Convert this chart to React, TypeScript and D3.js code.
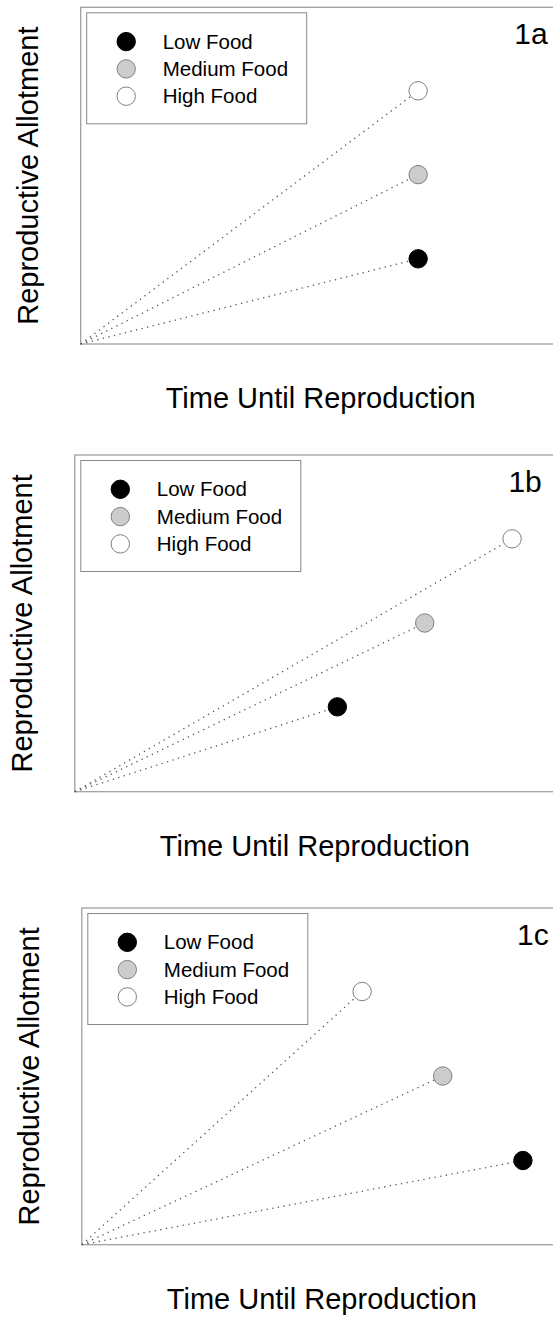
import React, { useRef, useEffect } from 'react';
import * as d3 from 'd3';

// categories
const foodLevels = ['Low Food', 'Medium Food', 'High Food'];
const panelLabels = ['1a', '1b', '1c'];

// time until reproduction (x), per panel, order = foodLevels
const time1a = [70.3, 70.3, 70.3];
const time1b = [54.7, 72.9, 91.1];
const time1c = [91.9, 75.2, 58.4];

// reproductive allotment (y), per panel
const allot1a = [25.3, 50.3, 75.2];
const allot1b = [25.2, 50.1, 75.1];
const allot1c = [25.0, 50.1, 75.2];

const axisTitleX = 'Time Until Reproduction';
const axisTitleY = 'Reproductive Allotment';

const fills = ['#000000', '#cccccc', '#ffffff'];
const strokes = ['#000000', '#808080', '#808080'];

const W = 553;
const H = 1317;
const FONT = '"Liberation Sans", Arial, Helvetica, sans-serif';

// frame placement of each panel (left, top)
const frames = [
  { left: 80.7, top: 7.3 },
  { left: 74.8, top: 455 },
  { left: 81.8, top: 908 },
];
const plotW = 480;
const plotH = 336.7;

const App = () => {
  const svgRef = useRef<SVGSVGElement>(null);

  useEffect(() => {
    const svg = d3.select(svgRef.current);
    svg.selectAll('*').remove();

    const times = [time1a, time1b, time1c];
    const allots = [allot1a, allot1b, allot1c];

    panelLabels.forEach((label, p) => {
      const { left, top } = frames[p];
      const g = svg.append('g').attr('transform', `translate(${left},${top})`);

      const x = d3.scaleLinear().domain([0, 100]).range([0, plotW]);
      const y = d3.scaleLinear().domain([0, 100]).range([plotH, 0]);

      // frame
      g.append('rect')
        .attr('x', 0)
        .attr('y', 0)
        .attr('width', plotW)
        .attr('height', plotH)
        .attr('fill', 'none')
        .attr('stroke', '#a0a0a0')
        .attr('stroke-width', 1.3);

      // dotted lines from origin
      const line = d3.line<[number, number]>()
        .x((d) => x(d[0]))
        .y((d) => y(d[1]));

      foodLevels.forEach((_, i) => {
        g.append('path')
          .datum([[0, 0], [times[p][i], allots[p][i]]] as [number, number][])
          .attr('fill', 'none')
          .attr('stroke', '#555')
          .attr('stroke-width', 1.3)
          .attr('stroke-dasharray', '1.3,4.4')
          .attr('d', line);
      });

      // points
      g.selectAll('.pt')
        .data(foodLevels)
        .enter()
        .append('circle')
        .attr('class', 'pt')
        .attr('cx', (d, i) => x(times[p][i]))
        .attr('cy', (d, i) => y(allots[p][i]))
        .attr('r', 9.2)
        .attr('fill', (d, i) => fills[i])
        .attr('stroke', (d, i) => strokes[i])
        .attr('stroke-width', 1);

      // legend
      const lg = g.append('g').attr('transform', 'translate(6,5.5)');
      lg.append('rect')
        .attr('width', 220)
        .attr('height', 111)
        .attr('fill', '#fff')
        .attr('stroke', '#888')
        .attr('stroke-width', 1);

      foodLevels.forEach((name, i) => {
        const cy = 28.8 + i * 27.3;
        lg.append('circle')
          .attr('cx', 39.5)
          .attr('cy', cy)
          .attr('r', 9.2)
          .attr('fill', fills[i])
          .attr('stroke', strokes[i])
          .attr('stroke-width', 1);
        lg.append('text')
          .attr('x', 76)
          .attr('y', cy)
          .attr('dy', '0.35em')
          .attr('font-family', FONT)
          .attr('font-size', 20.5)
          .attr('fill', '#000')
          .text(name);
      });

      // panel label
      g.append('text')
        .attr('x', 467)
        .attr('y', 36.7)
        .attr('text-anchor', 'end')
        .attr('font-family', FONT)
        .attr('font-size', 30)
        .attr('fill', '#000')
        .text(label);

      // axis titles
      g.append('text')
        .attr('x', 240)
        .attr('y', plotH + 64)
        .attr('text-anchor', 'middle')
        .attr('font-family', FONT)
        .attr('font-size', 29)
        .attr('fill', '#000')
        .text(axisTitleX);

      g.append('text')
        .attr('transform', `translate(-43,${plotH / 2}) rotate(-90)`)
        .attr('text-anchor', 'middle')
        .attr('font-family', FONT)
        .attr('font-size', 29)
        .attr('fill', '#000')
        .text(axisTitleY);
    });
  }, []);

  return (
    <svg
      ref={svgRef}
      width={W}
      height={H}
      style={{ position: 'absolute', left: 0, top: 0, background: '#fff' }}
    />
  );
};

export default App;
